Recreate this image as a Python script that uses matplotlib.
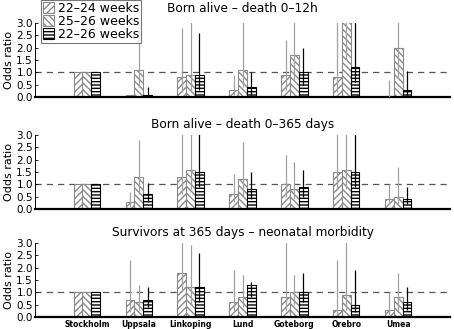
import matplotlib
matplotlib.use('Agg')
import matplotlib.pyplot as plt
import matplotlib.patches as mpatches
import numpy as np

centres = ["Stockholm", "Uppsala", "Linkoping", "Lund", "Goteborg", "Orebro", "Umea"]
series_labels = ["22\u201324 weeks", "25\u201326 weeks", "22\u201326 weeks"]
panel_titles = ["Born alive \u2013 death 0\u201312h",
                "Born alive \u2013 death 0\u2013365 days",
                "Survivors at 365 days \u2013 neonatal morbidity"]

# Panel 1: Born alive - death 0-12h (odds ratio, lower CI, upper CI)
p1_2224 = [1.0, 0.08, 0.8, 0.3, 0.9, 0.8, 0.05]
p1_2224_lo = [1.0, 0.08, 0.2, 0.1, 0.3, 0.2, 0.01]
p1_2224_hi = [1.0, 0.08, 2.8, 0.9, 2.3, 4.0, 0.7]
p1_2526 = [1.0, 1.1, 0.9, 1.1, 1.7, 4.0, 2.0]
p1_2526_lo = [1.0, 0.4, 0.3, 0.4, 0.7, 1.5, 0.8]
p1_2526_hi = [1.0, 4.0, 4.0, 4.0, 4.0, 4.0, 4.0]
p1_2226 = [1.0, 0.1, 0.9, 0.4, 1.0, 1.2, 0.3]
p1_2226_lo = [1.0, 0.02, 0.3, 0.1, 0.5, 0.6, 0.1]
p1_2226_hi = [1.0, 0.4, 2.6, 1.0, 2.0, 4.0, 1.05]

# Panel 2: Born alive - death 0-365 days
p2_2224 = [1.0, 0.3, 1.3, 0.6, 1.0, 1.5, 0.4]
p2_2224_lo = [1.0, 0.1, 0.6, 0.3, 0.5, 0.8, 0.2]
p2_2224_hi = [1.0, 0.7, 4.0, 1.4, 2.2, 4.0, 1.0]
p2_2526 = [1.0, 1.3, 1.6, 1.2, 0.8, 1.6, 0.5]
p2_2526_lo = [1.0, 0.6, 0.8, 0.5, 0.4, 0.8, 0.2]
p2_2526_hi = [1.0, 2.8, 4.0, 2.7, 1.9, 4.0, 1.7]
p2_2226 = [1.0, 0.6, 1.5, 0.8, 0.9, 1.5, 0.4]
p2_2226_lo = [1.0, 0.3, 0.9, 0.4, 0.5, 0.9, 0.2]
p2_2226_hi = [1.0, 1.05, 4.0, 1.5, 1.6, 4.0, 0.9]

# Panel 3: Survivors at 365 days - neonatal morbidity
p3_2224 = [1.0, 0.7, 1.8, 0.6, 0.8, 0.3, 0.3]
p3_2224_lo = [1.0, 0.2, 1.0, 0.2, 0.3, 0.1, 0.1]
p3_2224_hi = [1.0, 2.3, 4.0, 1.9, 4.0, 2.3, 1.0]
p3_2526 = [1.0, 0.6, 1.2, 0.8, 1.0, 0.9, 0.8]
p3_2526_lo = [1.0, 0.3, 0.5, 0.4, 0.5, 0.3, 0.3]
p3_2526_hi = [1.0, 1.3, 2.9, 1.7, 1.7, 4.0, 1.8]
p3_2226 = [1.0, 0.7, 1.2, 1.3, 1.0, 0.5, 0.6]
p3_2226_lo = [1.0, 0.4, 0.6, 0.8, 0.6, 0.2, 0.3]
p3_2226_hi = [1.0, 1.2, 2.6, 1.4, 1.8, 1.9, 1.2]

panels = [
    [(p1_2224, p1_2224_lo, p1_2224_hi), (p1_2526, p1_2526_lo, p1_2526_hi), (p1_2226, p1_2226_lo, p1_2226_hi)],
    [(p2_2224, p2_2224_lo, p2_2224_hi), (p2_2526, p2_2526_lo, p2_2526_hi), (p2_2226, p2_2226_lo, p2_2226_hi)],
    [(p3_2224, p3_2224_lo, p3_2224_hi), (p3_2526, p3_2526_lo, p3_2526_hi), (p3_2226, p3_2226_lo, p3_2226_hi)],
]

plt.rcParams['hatch.linewidth'] = 1.0
fig = plt.figure(figsize=(4.54, 3.29), dpi=100)

gray = '#8a8a8a'
styles = [
    dict(hatch='/////', edge=gray, line='#a0a0a0'),
    dict(hatch='\\\\\\\\\\', edge=gray, line='#a0a0a0'),
    dict(hatch='-----', edge='black', line='black'),
]
offsets = [-0.17, 0.0, 0.17]
width = 0.17

ax_left = 35 / 454
ax_w = 415 / 454
ax_h = 74 / 329
bottoms = [1 - 97 / 329, 1 - 209 / 329, 1 - 317 / 329]
title_pads = [8, 5, 5]

x = np.arange(1, len(centres) + 1)
for pi, (series, title, b) in enumerate(zip(panels, panel_titles, bottoms)):
    ax = fig.add_axes([ax_left, b, ax_w, ax_h])
    for si, (vals, lo, hi) in enumerate(series):
        st = styles[si]
        ax.bar(x + offsets[si], vals, width=width, color='white',
               edgecolor=st['edge'], hatch=st['hatch'], linewidth=0.8, zorder=2)
        ax.vlines(x + offsets[si], lo, hi, color=st['line'], linewidth=0.9, zorder=3)
    ax.axhline(1.0, color='#555555', linestyle=(0, (5, 4)), linewidth=0.9, zorder=1)
    ax.set_xlim(0, 8)
    ax.set_ylim(0, 3)
    ax.set_yticks([0, 0.5, 1.0, 1.5, 2.0, 2.5, 3.0])
    ax.set_yticklabels(['0.0', '0.5', '1.0', '1.5', '2.0', '2.5', '3.0'], fontsize=7.5)
    ax.tick_params(axis='y', length=2, width=0.6, pad=1.5, direction='in')
    ax.tick_params(axis='x', length=0)
    ax.spines['top'].set_visible(False)
    ax.spines['right'].set_visible(False)
    ax.spines['left'].set_linewidth(0.7)
    ax.spines['bottom'].set_linewidth(1.6)
    ax.set_ylabel('Odds ratio', fontsize=8, labelpad=2)
    ax.set_title(title, fontsize=8.7, pad=title_pads[pi])
    if pi == 2:
        ax.set_xticks(x)
        ax.set_xticklabels(centres, fontsize=5.5, fontweight='bold')
        ax.tick_params(axis='x', pad=2)
    else:
        ax.set_xticks([])

handles = [mpatches.Patch(facecolor='white', edgecolor=styles[i]['edge'],
                          hatch=styles[i]['hatch'], linewidth=0.8) for i in range(3)]
leg = fig.legend(handles, series_labels, loc='upper left',
                 bbox_to_anchor=(41 / 454, 1.0), fontsize=9,
                 handlelength=0.9, handleheight=0.9, handletextpad=0.3,
                 labelspacing=0.0, borderpad=0.15, borderaxespad=0,
                 frameon=True, fancybox=False, edgecolor='#555555')
leg.get_frame().set_linewidth(0.8)
leg.set_zorder(10)

fig.savefig('out.png', dpi=100)
